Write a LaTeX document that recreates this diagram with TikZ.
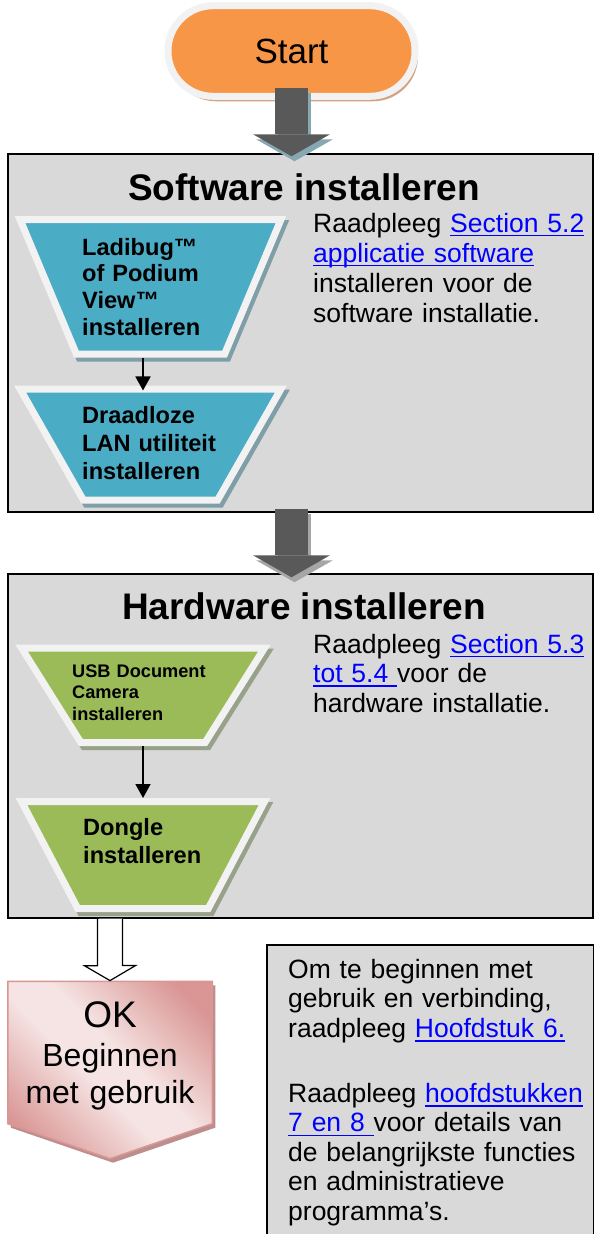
\documentclass[tikz,border=0pt]{standalone}
\usepackage{fontspec}
\setmainfont{Liberation Sans}
\usetikzlibrary{shapes.geometric,shapes.symbols,shadows,arrows.meta}

\definecolor{boxgray}{HTML}{D9D9D9}
\definecolor{rimgray}{HTML}{F2F2F2}
\definecolor{startorange}{HTML}{F79646}
\definecolor{startshadow}{HTML}{D2A483}
\definecolor{swblue}{HTML}{4BACC6}
\definecolor{swshadow}{HTML}{7F9FA8}
\definecolor{hwgreen}{HTML}{9BBB59}
\definecolor{hwshadow}{HTML}{98A189}
\definecolor{arrowgray}{HTML}{595959}
\definecolor{arrowshadowblue}{HTML}{86A8B2}
\definecolor{arrowshadowgray}{HTML}{A6A6A6}
\definecolor{oklight}{HTML}{F5E4E3}
\definecolor{okdark}{HTML}{D99694}
\definecolor{okshadow}{HTML}{BC8E8D}
\definecolor{linkblue}{HTML}{0000FF}

\pgfdeclarehorizontalshading{okshade}{100bp}{color(0bp)=(okdark); color(22bp)=(okdark); color(45bp)=(oklight); color(55bp)=(oklight); color(78bp)=(okdark); color(100bp)=(okdark)}

\newcommand{\lnk}[1]{\textcolor{linkblue}{\setbox0=\hbox{#1}\rlap{\rule[-4.3pt]{\wd0}{1.6pt}}\box0}}
\newcommand{\fsz}[2]{\fontsize{#1pt}{#2pt}\selectfont}

\tikzset{
  flowbox/.style={rectangle, draw=black, line width=1.5pt, fill=boxgray},
  boxtitle/.style={anchor=base, inner sep=0pt, font=\bfseries\fsz{37}{42}},
  startpill/.style={rectangle, rounded corners=45pt, minimum width=247pt, minimum height=90.6pt,
    fill=startorange, draw=rimgray, line width=7pt, font=\fsz{35}{40},
    drop shadow={shadow xshift=3pt, shadow yshift=-5pt, fill=startshadow, opacity=1}},
  trapbox/.style={trapezium, trapezium stretches=true, shape border rotate=180, inner sep=2pt,
    draw=rimgray, line width=7pt},
  swtrap/.style={trapbox, fill=swblue,
    drop shadow={shadow xshift=3pt, shadow yshift=-4pt, fill=swshadow, draw=swshadow, opacity=1}},
  hwtrap/.style={trapbox, fill=hwgreen,
    drop shadow={shadow xshift=3pt, shadow yshift=-4pt, fill=hwshadow, draw=hwshadow, opacity=1}},
  lbl/.style={anchor=base west, inner sep=0pt, align=left, text width=#1},
  traptext/.style={lbl=200pt, font=\bfseries\fsz{23.6}{#1}},
  reftext/.style={lbl=320pt, font=\fsz{26.5}{#1}},
  flowarrow/.style={line width=1.8pt, -{Triangle[width=15pt,length=14pt]}},
  bigarrow/.style={line width=33pt, -{Triangle[width=77pt,length=22pt,line width=0pt]}},
  hollow/.style={draw=black, fill=white, line width=1.2pt, line join=miter},
  okshape/.style={signal, signal to=south, signal pointer angle=142.2, minimum width=204.5pt,
    minimum height=143.5pt, shade, shading=okshade, shading angle=45, draw=okdark, line width=1.5pt,
    drop shadow={shadow xshift=3pt, shadow yshift=-4pt, fill=okshadow, opacity=1}}
}

\begin{document}
\begin{tikzpicture}[x=1pt,y=-1pt]
\useasboundingbox (0,0) rectangle (594,1234);

\node[startpill] (start) at (291.5,51) {Start};

% software installeren
\node[flowbox, minimum width=585pt, minimum height=358pt] (swbox) at (300.5,333) {};
\node[boxtitle] (swtitle) at (304,200) {Software installeren};
\node[swtrap, minimum width=261pt, minimum height=134.5pt, trapezium angle=69.2] (ladibug) at (150.5,286.75) {};
\node[swtrap, minimum width=261pt, minimum height=111pt, trapezium angle=64.8] (lanutil) at (150.5,444.5) {};
\node[traptext=26.7] (ladibugtxt) at (82,255) {Ladibug™\\of Podium\\View™\\installeren};
\node[traptext=28.3] (lanutiltxt) at (82,423.3) {Draadloze\\LAN utiliteit\\installeren};
\node[reftext=30] (swref) at (313,232) {Raadpleeg \lnk{Section 5.2}\\\lnk{applicatie software}\\installeren voor de\\software installatie.};
\draw[flowarrow] ([xshift=-7.5pt]ladibug.south) -- ([xshift=-7.5pt,yshift=-5pt]lanutil.north);

% hardware installeren
\node[flowbox, minimum width=585pt, minimum height=344pt] (hwbox) at (300.5,746) {};
\node[boxtitle] (hwtitle) at (304,619) {Hardware installeren};
\node[hwtrap, minimum width=243pt, minimum height=94.5pt, trapezium angle=64.5] (usbcam) at (143,695.25) {};
\node[hwtrap, minimum width=243pt, minimum height=107pt, trapezium angle=66.7] (dongle) at (143,855) {};
\node[lbl=200pt, font=\bfseries\fsz{18.2}{21.5}] (usbcamtxt) at (72,677) {USB Document\\Camera\\installeren};
\node[traptext=28] (dongletxt) at (83,835) {Dongle\\installeren};
\node[reftext=29.5] (hwref) at (313,653) {Raadpleeg \lnk{Section 5.3}\\\lnk{tot 5.4\ }voor de\\hardware installatie.};
\draw[flowarrow] (usbcam.south) -- (dongle.north);

% grote pijlen
\draw[bigarrow, arrowshadowblue, transform canvas={xshift=3pt,yshift=-5pt}] ([yshift=12pt]start.south) -- ([yshift=-3pt]start.south |- swbox.north);
\draw[bigarrow, arrowgray] ([yshift=12pt]start.south) -- ([yshift=-3pt]start.south |- swbox.north);
\draw[bigarrow, arrowshadowgray, transform canvas={xshift=3pt,yshift=-5pt}] ([yshift=4pt]start.south |- swbox.south) -- ([yshift=-4pt]start.south |- hwbox.north);
\draw[bigarrow, arrowgray] ([yshift=4pt]start.south |- swbox.south) -- ([yshift=-4pt]start.south |- hwbox.north);

% OK
\node[okshape] (ok) at (110,1052.5) {};
\node[anchor=base, inner sep=0pt, align=center, text width=200pt, font=\fsz{32}{37}] (oktxt) at (110,1027)
  {{\fsz{37}{42}OK}\\[2pt]Beginnen\\met gebruik};
\draw[hollow] (ok.north |- hwbox.south) ++(-12.5,0) -- ++(0,47) -- ++(-13,0) -- (ok.north)
  -- ++(25.5,-15) -- ++(-13,0) -- ++(0,-47);

% verdere info
\node[flowbox, anchor=north west, minimum width=327pt, minimum height=320pt] (notebox) at (266,944) {};
\node[reftext=29.5] (notetxt) at (288,978.3) {Om te beginnen met\\gebruik en verbinding,\\raadpleeg \lnk{Hoofdstuk 6.}\\[35.5pt]Raadpleeg \lnk{hoofdstukken}\\\lnk{7 en 8\ }voor details van\\de belangrijkste functies\\en administratieve\\programma’s.};
\end{tikzpicture}
\end{document}
